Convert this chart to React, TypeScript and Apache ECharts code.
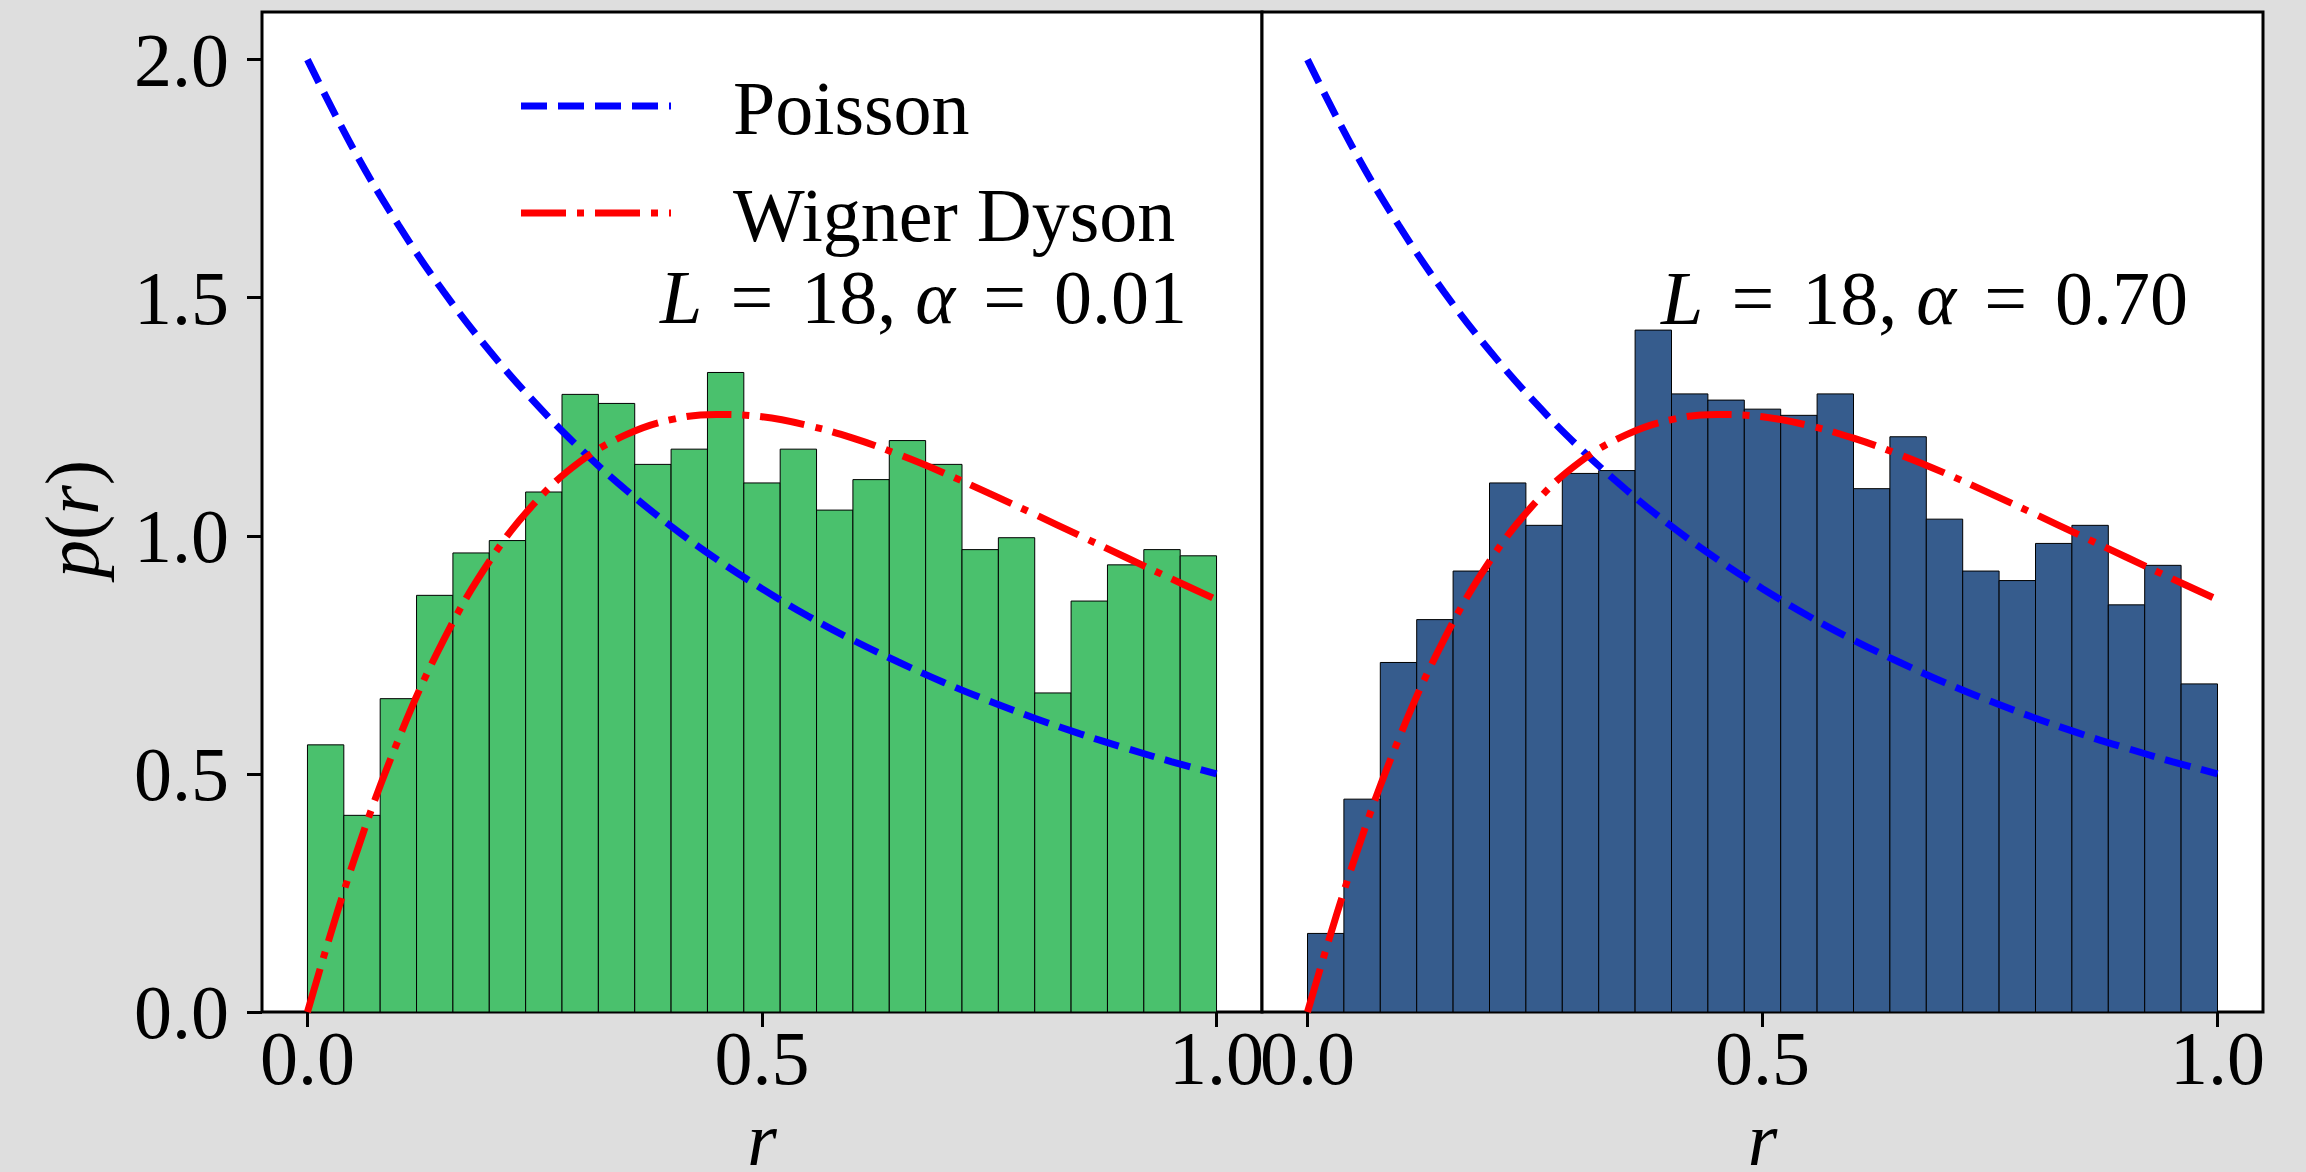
import React, { useEffect, useRef } from "react";
import * as echarts from "echarts";

// ---------- data ----------
const binEdges = [0, 0.04, 0.08, 0.12, 0.16, 0.2, 0.24, 0.28, 0.32, 0.36, 0.4, 0.44, 0.48, 0.52, 0.56, 0.6, 0.64, 0.68, 0.72, 0.76, 0.8, 0.84, 0.88, 0.92, 0.96, 1.0];
const leftHeights = [0.561, 0.413, 0.658, 0.875, 0.964, 0.99, 1.092, 1.297, 1.278, 1.15, 1.182, 1.343, 1.111, 1.182, 1.054, 1.118, 1.2, 1.15, 0.971, 0.996, 0.67, 0.863, 0.939, 0.971, 0.958];
const rightHeights = [0.165, 0.447, 0.734, 0.824, 0.926, 1.111, 1.022, 1.131, 1.137, 1.432, 1.298, 1.285, 1.266, 1.253, 1.298, 1.099, 1.208, 1.035, 0.926, 0.906, 0.984, 1.022, 0.855, 0.938, 0.689];
const curveR = [0, 0.05, 0.1, 0.15, 0.2, 0.25, 0.3, 0.35, 0.4, 0.45, 0.5, 0.55, 0.6, 0.65, 0.7, 0.75, 0.8, 0.85, 0.9, 0.95, 1.0];
const poissonVals = [2.0, 1.814, 1.653, 1.512, 1.389, 1.28, 1.183, 1.097, 1.02, 0.951, 0.889, 0.832, 0.781, 0.735, 0.692, 0.653, 0.617, 0.584, 0.554, 0.526, 0.5];
const wignerVals = [0, 0.312, 0.572, 0.782, 0.946, 1.069, 1.156, 1.212, 1.244, 1.255, 1.25, 1.232, 1.205, 1.171, 1.132, 1.089, 1.045, 1.0, 0.955, 0.91, 0.866];
const xTicks = [0, 0.5, 1.0];
const yTicks = [0, 0.5, 1.0, 1.5, 2.0];
const legendNames = ["Poisson", "Wigner Dyson"];
const panelLabels = ["{i|L}{e|=}{n|18, }{i|α}{e|=}{n|0.01}", "{i|L}{e|=}{n|18, }{i|α}{e|=}{n|0.70}"];

const FONT = "'Liberation Serif', 'Times New Roman', serif";
const FS = 76;
const BG = "#dedede";
const GREEN = "#4ac16d";
const NAVY = "#365c8d";
const BLUE = "#0000ff";
const RED = "#ff0000";
const POISSON_DASH = [26, 11];
const WD_DASH = [45, 11, 7, 11];
const LW = 7;

const richStyles = {
  i: { fontStyle: "italic", fontSize: FS, fontFamily: FONT, fill: "#000" },
  n: { fontStyle: "normal", fontSize: FS, fontFamily: FONT, fill: "#000" },
  e: { fontStyle: "normal", fontSize: FS, fontFamily: FONT, fill: "#000", padding: [0, 28, 0, 28] },
};

function histData(heights: number[]) {
  return heights.map((h, i) => [binEdges[i], binEdges[i + 1], h]);
}

function barSeries(idx: number, heights: number[], color: string) {
  return {
    type: "custom",
    xAxisIndex: idx,
    yAxisIndex: idx,
    data: histData(heights),
    encode: { x: [0, 1], y: 2 },
    z: 2,
    renderItem: (params: any, api: any) => {
      const p0 = api.coord([api.value(0), api.value(2)]);
      const p1 = api.coord([api.value(1), 0]);
      return {
        type: "rect",
        shape: { x: p0[0], y: p0[1], width: p1[0] - p0[0], height: p1[1] - p0[1] },
        style: { fill: color, stroke: "#000", lineWidth: 1 },
      };
    },
  };
}

function curveSeries(idx: number, name: string, vals: number[], color: string, dash: number[]) {
  return {
    type: "line",
    name,
    xAxisIndex: idx,
    yAxisIndex: idx,
    data: curveR.map((r, i) => [r, vals[i]]),
    smooth: 0.4,
    symbol: "none",
    z: 5,
    lineStyle: { color, width: LW, type: dash, cap: "butt" },
  };
}

function xAxis(idx: number) {
  return {
    type: "value",
    gridIndex: idx,
    min: -0.05,
    max: 1.05,
    axisLine: { show: false, onZero: false },
    splitLine: { show: false },
    axisTick: { show: true, inside: false, length: 15, customValues: xTicks, lineStyle: { color: "#000", width: 3 } },
    axisLabel: {
      show: true,
      customValues: xTicks,
      margin: 46,
      verticalAlign: "middle",
      formatter: (v: number) => v.toFixed(1),
      fontFamily: FONT,
      fontSize: FS,
      color: "#000",
    },
    name: "r",
    nameLocation: "middle",
    nameGap: 120,
    nameTextStyle: { fontFamily: FONT, fontSize: FS, fontStyle: "italic", color: "#000", verticalAlign: "middle", lineHeight: 36 },
  };
}

function yAxis(idx: number, showLabels: boolean) {
  return {
    type: "value",
    gridIndex: idx,
    min: 0,
    max: 2.1,
    axisLine: { show: false, onZero: false },
    splitLine: { show: false },
    axisTick: { show: showLabels, inside: false, length: 15, customValues: yTicks, lineStyle: { color: "#000", width: 3 } },
    axisLabel: {
      show: showLabels,
      customValues: yTicks,
      margin: 33,
      formatter: (v: number) => v.toFixed(1),
      fontFamily: FONT,
      fontSize: FS,
      color: "#000",
    },
  };
}

export default function App() {
  const ref = useRef<HTMLDivElement>(null);
  useEffect(() => {
    document.body.style.margin = "0";
    document.body.style.overflow = "hidden";
    const chart = echarts.init(ref.current!, null, { renderer: "svg" });
    const grid = (left: number, width: number) => ({
      left,
      top: 12,
      width,
      height: 1000,
      show: true,
      backgroundColor: "#fff",
      borderColor: "#000",
      borderWidth: 3,
      containLabel: false,
      outerBoundsMode: "none",
    });
    chart.setOption({
      animation: false,
      backgroundColor: BG,
      grid: [grid(262, 1000), grid(1262, 1001)],
      xAxis: [xAxis(0), xAxis(1)],
      yAxis: [yAxis(0, true), yAxis(1, false)],
      series: [
        barSeries(0, leftHeights, GREEN),
        barSeries(1, rightHeights, NAVY),
        curveSeries(0, legendNames[0], poissonVals, BLUE, POISSON_DASH),
        curveSeries(0, legendNames[1], wignerVals, RED, WD_DASH),
        curveSeries(1, legendNames[0], poissonVals, BLUE, POISSON_DASH),
        curveSeries(1, legendNames[1], wignerVals, RED, WD_DASH),
      ],
      graphic: [
        // legend
        { type: "line", shape: { x1: 521, y1: 106, x2: 671, y2: 106 }, style: { stroke: BLUE, lineWidth: LW, lineDash: POISSON_DASH }, z: 10 },
        { type: "line", shape: { x1: 521, y1: 213, x2: 671, y2: 213 }, style: { stroke: RED, lineWidth: LW, lineDash: WD_DASH }, z: 10 },
        { type: "text", x: 733, y: 108, z: 10, style: { text: legendNames[0], fontFamily: FONT, fontSize: FS, fill: "#000", textAlign: "left", textVerticalAlign: "middle" } },
        { type: "text", x: 733, y: 215, z: 10, style: { text: legendNames[1], fontFamily: FONT, fontSize: FS, fill: "#000", textAlign: "left", textVerticalAlign: "middle" } },
        // panel annotations
        { type: "text", x: 1187, y: 297, z: 10, style: { text: panelLabels[0], rich: richStyles, fontFamily: FONT, fontSize: FS, fill: "#000", textAlign: "right", textVerticalAlign: "middle" } },
        { type: "text", x: 2188, y: 298, z: 10, style: { text: panelLabels[1], rich: richStyles, fontFamily: FONT, fontSize: FS, fill: "#000", textAlign: "right", textVerticalAlign: "middle" } },
        // y axis label
        { type: "text", x: 72, y: 519, rotation: Math.PI / 2, z: 10, style: { text: "{i|p}{n|(}{i|r}{n|)}", rich: richStyles, fontFamily: FONT, fontSize: FS, fill: "#000", textAlign: "center", textVerticalAlign: "middle" } },
      ],
    });
    return () => chart.dispose();
  }, []);
  return <div ref={ref} style={{ width: 2306, height: 1172, background: BG }} />;
}
